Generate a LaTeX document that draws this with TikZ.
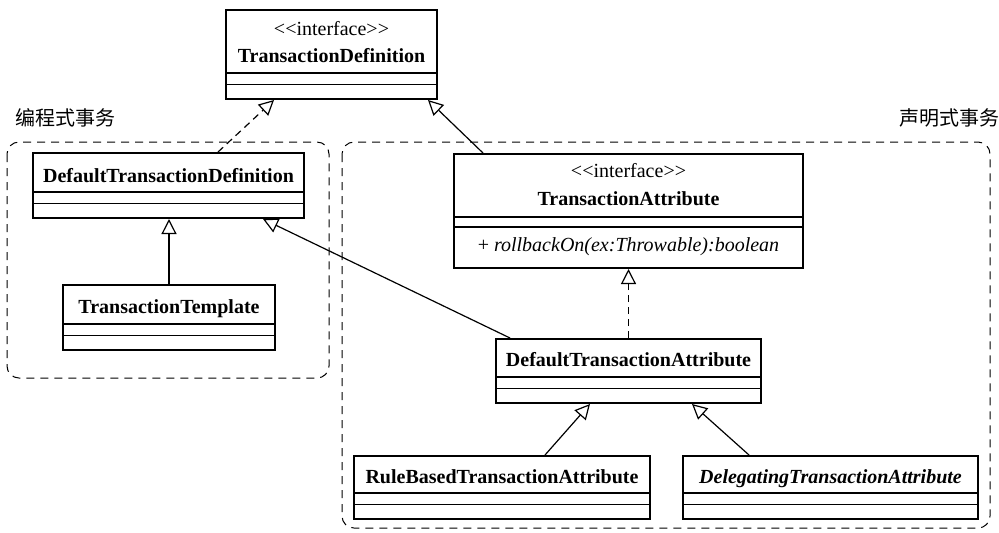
\documentclass[tikz,border=0pt]{standalone}
\usepackage{fontspec}
\setmainfont{Liberation Serif}
\newfontfamily\cjkfont{Noto Sans CJK SC}
\usetikzlibrary{arrows.meta,calc}
\tikzset{
  cls/.style    = {draw, line width=1pt, inner sep=0pt},
  cname/.style  = {anchor=base, inner sep=0pt, font=\fontsize{10}{12}\selectfont\bfseries},
  stereo/.style = {anchor=base, inner sep=0pt, font=\fontsize{10}{12}\selectfont},
  oper/.style   = {anchor=base, inner sep=0pt, font=\fontsize{10}{12}\selectfont},
  sep/.style    = {line width=0.8pt},
  grp/.style    = {draw, dash pattern=on 4pt off 3pt, rounded corners=6pt, line width=0.5pt},
  grplbl/.style = {inner sep=0pt, font=\cjkfont\fontsize{10}{12}\selectfont},
  inh/.style    = {-{Triangle[open, length=7.5pt, width=7.5pt]}, line width=0.6pt},
  impl/.style   = {inh, dash pattern=on 3.5pt off 2.5pt}
}

\begin{document}
\begin{tikzpicture}[x=0.5pt, y=-0.5pt]
  \useasboundingbox (0,0) rectangle (999,532);

  \draw[grp] (7,142) rectangle (329,378);
  \draw[grp] (342,142) rectangle (990,528);
  \node[grplbl] (prog) at (65,118) {编程式事务};
  \node[grplbl] (decl) at (949,118) {声明式事务};

  \node[cls, minimum width=105.5pt, minimum height=44.5pt] (td)   at (331.5,54.5) {};
  \node[cls, minimum width=135.5pt, minimum height=32.5pt] (dtd)  at (168.5,185.5) {};
  \node[cls, minimum width=106pt,   minimum height=32.5pt] (tt)   at (169,317.5) {};
  \node[cls, minimum width=174.5pt, minimum height=57pt]   (ta)   at (628.5,211) {};
  \node[cls, minimum width=132.5pt, minimum height=32pt]   (dta)  at (628.5,371) {};
  \node[cls, minimum width=148pt,   minimum height=31.5pt] (rbta) at (502,487.5) {};
  \node[cls, minimum width=147.5pt, minimum height=31.5pt] (dgta) at (830.5,487.5) {};

  \node[stereo] (td-s)   at (331.5,35)  {<\kern0pt<interface>\kern0pt>};
  \node[cname]  (td-n)   at (331.5,62)  {TransactionDefinition};
  \node[cname]  (dtd-n)  at (168.5,182) {DefaultTransactionDefinition};
  \node[cname]  (tt-n)   at (169,313)   {TransactionTemplate};
  \node[stereo] (ta-s)   at (628.5,177) {<\kern0pt<interface>\kern0pt>};
  \node[cname]  (ta-n)   at (628.5,205) {TransactionAttribute};
  \node[oper]   (ta-m)   at (628.5,251) {+ \textit{rollbackOn(ex:Throwable):boolean}};
  \node[cname]  (dta-n)  at (628.5,366) {DefaultTransactionAttribute};
  \node[cname]  (rbta-n) at (502,483)   {RuleBasedTransactionAttribute};
  \node[cname]  (dgta-n) at (830.5,483) {\itshape DelegatingTransactionAttribute};

  \foreach \c in {td,dtd,tt,dta,rbta,dgta}
    \draw[sep] ([yshift=13.5pt]\c.south west) -- ([yshift=13.5pt]\c.south east)
               ([yshift=7.75pt]\c.south west) -- ([yshift=7.75pt]\c.south east);
  \draw[sep] ([yshift=26pt]ta.south west) -- ([yshift=26pt]ta.south east)
             ([yshift=21pt]ta.south west) -- ([yshift=21pt]ta.south east);

  \draw[impl] ($(dtd.north)+(49.5,0)$) -- ($(td.south)+(-57.5,0)$);
  \draw[inh]  ($(ta.north)+(-145.5,0)$) -- ($(td.south)+(96.5,0)$);
  \draw[inh]  (tt.north) -- (tt.north |- dtd.south);
  \draw[inh]  ($(dta.north)+(-118.5,0)$) -- ($(dtd.south)+(94.5,0)$);
  \draw[impl] (dta.north) -- (ta.south);
  \draw[inh]  ($(rbta.north)+(43,0)$) -- ($(dta.south)+(-38.5,0)$);
  \draw[inh]  ($(dgta.north)+(-81.5,0)$) -- ($(dta.south)+(63.5,0)$);
\end{tikzpicture}
\end{document}
